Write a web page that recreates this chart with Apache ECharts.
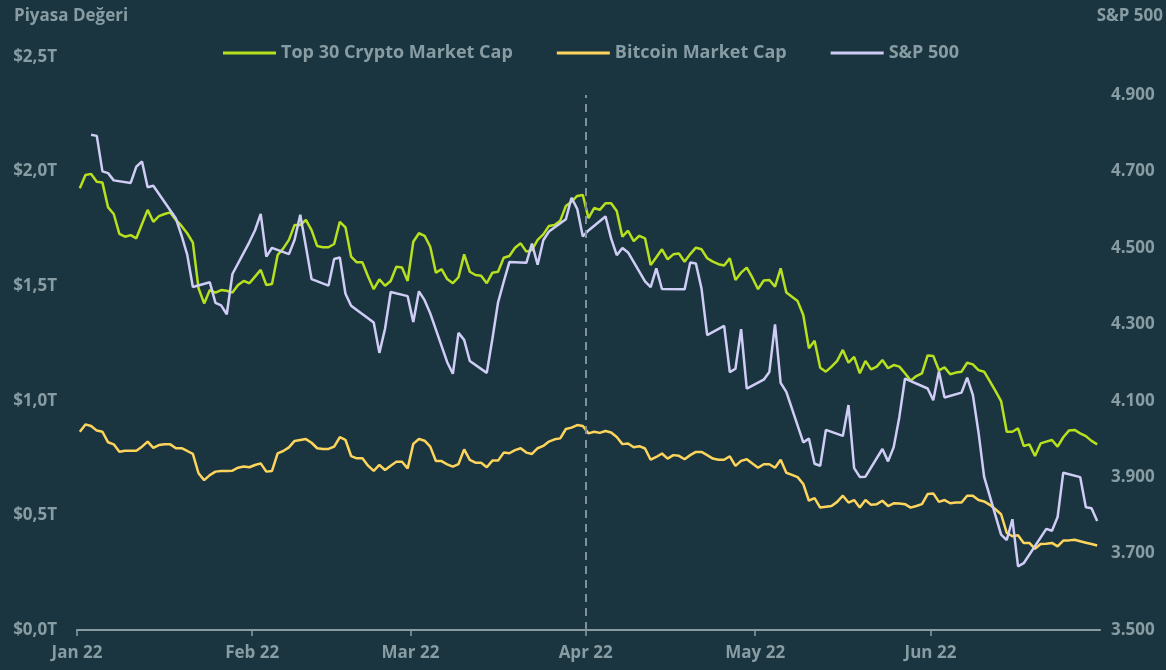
<!DOCTYPE html>
<html>
<head>
<meta charset="utf-8">
<script src="https://cdn.jsdelivr.net/npm/echarts@6/dist/echarts.min.js"></script>
<style>
  html, body { margin: 0; padding: 0; background: #1b3540; }
  #chart { width: 1166px; height: 670px; }
</style>
</head>
<body>
<div id="chart"></div>
<script>
// ---- DATA ----
const cryptoStart = [2022, 0, 1]; // daily series start (1 Jan 2022)

// Top 30 crypto market cap, trillions USD, daily from 1 Jan 2022
const top30Cap = [
  1.927, 1.985, 1.990, 1.956, 1.952, 1.844, 1.815, 1.728, 1.716, 1.723,
  1.709, 1.771, 1.833, 1.781, 1.806, 1.815, 1.822, 1.789, 1.763, 1.731,
  1.690, 1.491, 1.425, 1.483, 1.472, 1.483, 1.480, 1.472, 1.505, 1.523,
  1.513, 1.542, 1.571, 1.505, 1.510, 1.636, 1.665, 1.702, 1.767, 1.767,
  1.789, 1.745, 1.675, 1.670, 1.670, 1.684, 1.781, 1.757, 1.629, 1.604,
  1.604, 1.542, 1.487, 1.530, 1.502, 1.523, 1.585, 1.582, 1.523, 1.694,
  1.731, 1.720, 1.672, 1.559, 1.574, 1.531, 1.513, 1.539, 1.639, 1.563,
  1.549, 1.546, 1.513, 1.559, 1.563, 1.624, 1.632, 1.668, 1.687, 1.651,
  1.658, 1.702, 1.726, 1.763, 1.767, 1.786, 1.850, 1.869, 1.894, 1.898,
  1.797, 1.841, 1.833, 1.862, 1.862, 1.828, 1.716, 1.742, 1.697, 1.720,
  1.709, 1.592, 1.626, 1.661, 1.617, 1.639, 1.643, 1.607, 1.640, 1.668,
  1.661, 1.622, 1.607, 1.596, 1.590, 1.622, 1.527, 1.559, 1.581, 1.537,
  1.487, 1.525, 1.527, 1.498, 1.578, 1.473, 1.454, 1.435, 1.374, 1.229,
  1.262, 1.144, 1.127, 1.149, 1.174, 1.222, 1.166, 1.192, 1.120, 1.174,
  1.137, 1.149, 1.178, 1.142, 1.156, 1.149, 1.120, 1.088, 1.108, 1.120,
  1.198, 1.196, 1.133, 1.146, 1.116, 1.123, 1.127, 1.166, 1.159, 1.134,
  1.127, 1.086, 1.043, 0.999, 0.865, 0.865, 0.880, 0.803, 0.810, 0.759,
  0.814, 0.822, 0.829, 0.800, 0.841, 0.870, 0.873, 0.858, 0.846, 0.825,
  0.810
];

// Bitcoin market cap, trillions USD, daily from 1 Jan 2022
const btcCap = [
  0.865, 0.897, 0.890, 0.870, 0.865, 0.819, 0.810, 0.778, 0.782, 0.782,
  0.782, 0.800, 0.822, 0.795, 0.807, 0.810, 0.810, 0.793, 0.793, 0.781,
  0.768, 0.684, 0.654, 0.676, 0.691, 0.694, 0.694, 0.695, 0.708, 0.713,
  0.710, 0.720, 0.727, 0.691, 0.694, 0.771, 0.781, 0.797, 0.825, 0.829,
  0.833, 0.817, 0.793, 0.790, 0.790, 0.800, 0.841, 0.829, 0.759, 0.749,
  0.749, 0.717, 0.694, 0.720, 0.698, 0.717, 0.734, 0.734, 0.705, 0.812,
  0.833, 0.826, 0.800, 0.737, 0.737, 0.723, 0.713, 0.724, 0.788, 0.742,
  0.730, 0.730, 0.710, 0.739, 0.739, 0.774, 0.771, 0.785, 0.793, 0.774,
  0.768, 0.793, 0.803, 0.822, 0.832, 0.836, 0.877, 0.883, 0.894, 0.890,
  0.858, 0.865, 0.860, 0.868, 0.862, 0.842, 0.811, 0.814, 0.797, 0.802,
  0.792, 0.743, 0.755, 0.770, 0.748, 0.763, 0.760, 0.745, 0.763, 0.777,
  0.777, 0.763, 0.748, 0.743, 0.743, 0.758, 0.716, 0.738, 0.745, 0.726,
  0.708, 0.723, 0.723, 0.708, 0.743, 0.686, 0.677, 0.667, 0.637, 0.564,
  0.575, 0.534, 0.538, 0.541, 0.559, 0.586, 0.556, 0.567, 0.534, 0.567,
  0.546, 0.549, 0.564, 0.541, 0.553, 0.552, 0.549, 0.534, 0.541, 0.549,
  0.593, 0.596, 0.559, 0.567, 0.553, 0.556, 0.556, 0.586, 0.586, 0.567,
  0.561, 0.546, 0.527, 0.505, 0.424, 0.409, 0.413, 0.380, 0.380, 0.354,
  0.375, 0.376, 0.380, 0.365, 0.390, 0.391, 0.394, 0.387, 0.381, 0.375,
  0.369
];

// S&P 500 closes on trading days
const spDates = [
  '2022-01-03','2022-01-04','2022-01-05','2022-01-06','2022-01-07','2022-01-10','2022-01-11','2022-01-12','2022-01-13','2022-01-14',
  '2022-01-18','2022-01-19','2022-01-20','2022-01-21','2022-01-24','2022-01-25','2022-01-26','2022-01-27','2022-01-28','2022-01-31',
  '2022-02-01','2022-02-02','2022-02-03','2022-02-04','2022-02-07','2022-02-08','2022-02-09','2022-02-10','2022-02-11','2022-02-14',
  '2022-02-15','2022-02-16','2022-02-17','2022-02-18','2022-02-22','2022-02-23','2022-02-24','2022-02-25','2022-02-28',
  '2022-03-01','2022-03-02','2022-03-03','2022-03-04','2022-03-07','2022-03-08','2022-03-09','2022-03-10','2022-03-11','2022-03-14',
  '2022-03-15','2022-03-16','2022-03-17','2022-03-18','2022-03-21','2022-03-22','2022-03-23','2022-03-24','2022-03-25','2022-03-28',
  '2022-03-29','2022-03-30','2022-03-31',
  '2022-04-01','2022-04-04','2022-04-05','2022-04-06','2022-04-07','2022-04-08','2022-04-11','2022-04-12','2022-04-13','2022-04-14',
  '2022-04-18','2022-04-19','2022-04-20','2022-04-21','2022-04-22','2022-04-25','2022-04-26','2022-04-27','2022-04-28','2022-04-29',
  '2022-05-02','2022-05-03','2022-05-04','2022-05-05','2022-05-06','2022-05-09','2022-05-10','2022-05-11','2022-05-12','2022-05-13',
  '2022-05-16','2022-05-17','2022-05-18','2022-05-19','2022-05-20','2022-05-23','2022-05-24','2022-05-25','2022-05-26','2022-05-27',
  '2022-05-31',
  '2022-06-01','2022-06-02','2022-06-03','2022-06-06','2022-06-07','2022-06-08','2022-06-09','2022-06-10','2022-06-13','2022-06-14',
  '2022-06-15','2022-06-16','2022-06-17','2022-06-21','2022-06-22','2022-06-23','2022-06-24','2022-06-27','2022-06-28','2022-06-29',
  '2022-06-30'
];
const spValues = [
  4796.56, 4793.54, 4700.58, 4696.05, 4677.03, 4670.29, 4713.07, 4726.35, 4659.03, 4662.85,
  4577.11, 4532.76, 4482.73, 4397.94, 4410.13, 4356.45, 4349.93, 4326.51, 4431.85, 4515.55,
  4546.54, 4589.38, 4477.44, 4500.53, 4483.87, 4521.54, 4587.18, 4504.08, 4418.64, 4401.67,
  4471.07, 4475.01, 4380.26, 4348.87, 4304.76, 4225.50, 4288.70, 4384.65, 4373.94,
  4306.26, 4386.54, 4363.49, 4328.87, 4201.09, 4170.70, 4277.88, 4259.52, 4204.31, 4173.11,
  4262.45, 4357.86, 4411.67, 4463.12, 4461.18, 4511.61, 4456.24, 4520.16, 4543.06, 4575.52,
  4631.60, 4602.45, 4530.41,
  4545.86, 4582.64, 4525.12, 4481.15, 4500.21, 4488.28, 4412.53, 4397.45, 4446.59, 4392.59,
  4391.69, 4462.21, 4459.45, 4393.66, 4271.78, 4296.12, 4175.20, 4183.96, 4287.50, 4131.93,
  4155.38, 4175.48, 4300.17, 4146.87, 4123.34, 3991.24, 4001.05, 3935.18, 3930.08, 4023.89,
  4008.01, 4088.85, 3923.68, 3900.79, 3901.36, 3973.75, 3941.48, 3978.73, 4057.84, 4158.24,
  4132.15,
  4101.23, 4176.82, 4108.54, 4121.43, 4160.68, 4115.77, 4017.82, 3900.86, 3749.63, 3735.48,
  3789.99, 3666.77, 3674.84, 3764.79, 3759.89, 3795.73, 3911.74, 3900.11, 3821.55, 3818.83,
  3785.38
];

const seriesNames = ['Top 30 Crypto Market Cap', 'Bitcoin Market Cap', 'S&P 500'];
const monthLabels = ['Jan 22', 'Feb 22', 'Mar 22', 'Apr 22', 'May 22', 'Jun 22'];
const markerDate = '2022-04-01';

// ---- BUILD ----
function dayTs(i) { return new Date(cryptoStart[0], cryptoStart[1], cryptoStart[2] + i, 12).getTime(); }
function strTs(s, h) { const p = s.split('-').map(Number); return new Date(p[0], p[1] - 1, p[2], h || 0).getTime(); }

const top30Data = top30Cap.map((v, i) => [dayTs(i), v]);
const btcData = btcCap.map((v, i) => [dayTs(i), v]);
const spData = spValues.map((v, i) => [strTs(spDates[i], 12), v]);
const markerTs = strTs(markerDate, 0);

const textColor = '#879ca3';
const fontFamily = '"Open Sans", "Noto Sans", sans-serif';

const chart = echarts.init(document.getElementById('chart'), null, { renderer: 'canvas' });
chart.setOption({
  backgroundColor: '#1b3540',
  animation: false,
  title: [
    { text: 'Piyasa Değeri', left: 9, top: 3,
      textStyle: { color: textColor, fontSize: 17, fontWeight: 'bold', fontFamily } },
    { text: 'S&P 500', right: -2, top: 3,
      textStyle: { color: textColor, fontSize: 17, fontWeight: 'bold', fontFamily } }
  ],
  legend: {
    left: 218, top: 39,
    icon: 'rect', itemWidth: 53, itemHeight: 3, itemGap: 44,
    textStyle: { color: textColor, fontSize: 18, fontWeight: 'bold', fontFamily },
    data: seriesNames
  },
  grid: { left: 77, right: 66, top: 57, bottom: 40, containLabel: false, outerBoundsMode: 'none' },
  xAxis: {
    type: 'time',
    min: new Date(2022, 0, 1).getTime(),
    max: new Date(2022, 6, 1).getTime(),
    splitNumber: 6,
    axisLine: { show: true, lineStyle: { color: '#8a9ca2', width: 2 } },
    axisTick: { show: true, length: 6, lineStyle: { color: '#8a9ca2', width: 1.5 } },
    splitLine: { show: false },
    minorTick: { show: false },
    axisLabel: {
      color: textColor, fontSize: 17, fontWeight: 'bold', fontFamily, margin: 15,
      formatter: function (v) {
        const m = new Date(v).getMonth();
        return m < monthLabels.length ? monthLabels[m] : '';
      }
    }
  },
  yAxis: [
    {
      type: 'value', min: 0, max: 2.5, interval: 0.5,
      axisLine: { show: false }, axisTick: { show: false }, splitLine: { show: false },
      axisLabel: {
        color: textColor, fontSize: 17, fontWeight: 'bold', fontFamily, margin: 20,
        formatter: v => '$' + v.toFixed(1).replace('.', ',') + 'T'
      }
    },
    {
      type: 'value', min: 3500, max: 5000, interval: 200,
      axisLine: { show: false }, axisTick: { show: false }, splitLine: { show: false },
      axisLabel: {
        color: textColor, fontSize: 17, fontWeight: 'bold', fontFamily, margin: 11,
        showMaxLabel: false,
        formatter: v => v >= 5000 ? '' : (v / 1000).toFixed(3)
      }
    }
  ],
  series: [
    {
      name: seriesNames[0], type: 'line', yAxisIndex: 0, data: top30Data,
      showSymbol: false, symbol: 'none', color: '#b7e11e',
      lineStyle: { width: 2.5, color: '#b7e11e' },
      markLine: {
        silent: true, symbol: 'none', label: { show: false },
        lineStyle: { type: [8, 6], color: '#7f9197', width: 2 },
        data: [[{ coord: [markerTs, 0] }, { coord: [markerTs, 2.334] }]]
      }
    },
    {
      name: seriesNames[1], type: 'line', yAxisIndex: 0, data: btcData,
      showSymbol: false, symbol: 'none', color: '#fdd45c',
      lineStyle: { width: 2.5, color: '#fdd45c' }
    },
    {
      name: seriesNames[2], type: 'line', yAxisIndex: 1, data: spData,
      showSymbol: false, symbol: 'none', color: '#cfcdf6',
      lineStyle: { width: 2.5, color: '#cfcdf6' }
    }
  ]
});
</script>
</body>
</html>
